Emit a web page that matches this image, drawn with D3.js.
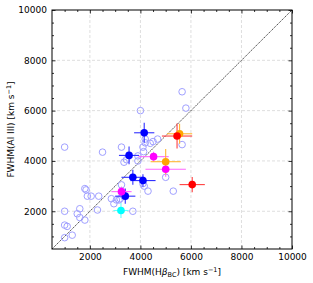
<!DOCTYPE html>
<html>
<head>
<meta charset="utf-8">
<script src="https://cdn.jsdelivr.net/npm/d3@7"></script>
<style>
  body { margin: 0; background: #fff; }
  text { font-family: "DejaVu Sans", sans-serif; }
</style>
</head>
<body>
<div id="vis"></div>
<script>
const FRAME_WIDTH = 313;
const FRAME_HEIGHT = 283;
const MARGINS = {left: 52, right: 21, top: 10, bottom: 34};
const VIS_WIDTH = FRAME_WIDTH - MARGINS.left - MARGINS.right;
const VIS_HEIGHT = FRAME_HEIGHT - MARGINS.top - MARGINS.bottom;

// comparison sample (open circles)
const OPEN_X = [1000, 2500, 3250, 4000, 5650, 5800, 5650, 5000, 5300, 4300, 3700,
  1000, 1600, 1500, 1600, 1800, 1000, 1100, 1300, 1000, 1800, 1850, 1900, 2050,
  2350, 2300, 2850, 2950, 3150, 3250, 3050, 3200, 3350, 3450, 3900, 4100, 4190,
  4190, 4390, 4500, 4680, 4125, 4100, 4150, 3900];
const OPEN_Y = [4550, 4350, 4550, 6000, 6750, 6100, 4650, 3350, 2800, 2800, 2000,
  2000, 2100, 1900, 1750, 1650, 1450, 1400, 1050, 950, 2900, 2850, 2600, 2600,
  2600, 2050, 2500, 2300, 2450, 3050, 2450, 2500, 3950, 4050, 4200, 4550, 4870,
  4720, 4700, 4770, 4870, 4370, 3100, 3000, 4000];

// main sample with error bars
const MAIN_X = [4150, 3550, 3700, 4100, 3400, 4520, 5000, 3250, 5550, 5000, 5450, 6050, 3230];
const MAIN_Y = [5120, 4220, 3350, 3220, 2600, 4170, 3670, 2780, 5080, 3970, 4990, 3060, 2030];
const MAIN_XERR = [400, 400, 450, 500, 400, 600, 800, 400, 500, 600, 600, 500, 300];
const MAIN_YERR = [400, 350, 300, 250, 300, 200, 300, 200, 400, 500, 500, 300, 300];
const MAIN_GROUP = ["blue", "blue", "blue", "blue", "blue", "magenta", "magenta", "magenta",
  "orange", "orange", "red", "red", "cyan"];

const COLORS = {blue: "#0000ff", magenta: "#ff00ff", orange: "#ffa500", red: "#ff0000", cyan: "#00ffff"};
const ERR_COLORS = {blue: "#3030ff", magenta: "#ff66ff", orange: "#ffb833", red: "#ff4040", cyan: "#66ffff"};

const MAJOR_TICKS = [2000, 4000, 6000, 8000, 10000];
const MINOR_TICKS = d3.range(1000, 10000, 500).filter(d => d % 2000 !== 0);

const X_SCALE = d3.scaleLinear().domain([500, 10000]).range([0, VIS_WIDTH]);
const Y_SCALE = d3.scaleLinear().domain([500, 10000]).range([VIS_HEIGHT, 0]);

const svg = d3.select("#vis")
  .append("svg")
    .attr("width", FRAME_WIDTH)
    .attr("height", FRAME_HEIGHT);

const g = svg.append("g")
  .attr("transform", "translate(" + MARGINS.left + "," + MARGINS.top + ")");

// grid
g.append("g").selectAll("line")
  .data(MAJOR_TICKS.slice(0, -1))
  .enter().append("line")
    .attr("x1", d => X_SCALE(d)).attr("x2", d => X_SCALE(d))
    .attr("y1", 0).attr("y2", VIS_HEIGHT)
    .attr("stroke", "#d0d0d0").attr("stroke-width", 0.7).attr("stroke-dasharray", "3,2");
g.append("g").selectAll("line")
  .data(MAJOR_TICKS.slice(0, -1))
  .enter().append("line")
    .attr("y1", d => Y_SCALE(d)).attr("y2", d => Y_SCALE(d))
    .attr("x1", 0).attr("x2", VIS_WIDTH)
    .attr("stroke", "#d0d0d0").attr("stroke-width", 0.7).attr("stroke-dasharray", "3,2");

// one-to-one line
g.append("line")
  .attr("x1", X_SCALE(500)).attr("y1", Y_SCALE(500))
  .attr("x2", X_SCALE(10000)).attr("y2", Y_SCALE(10000))
  .attr("stroke", "#000").attr("stroke-width", 0.7).attr("stroke-dasharray", "1.5,0.8");

// open circles
g.append("g").selectAll("circle")
  .data(OPEN_X)
  .enter().append("circle")
    .attr("cx", d => X_SCALE(d))
    .attr("cy", (d, i) => Y_SCALE(OPEN_Y[i]))
    .attr("r", 3.3)
    .attr("fill", "none")
    .attr("stroke", "#a0a0ff")
    .attr("stroke-width", 1);

// error bars
const errs = g.append("g");
MAIN_X.forEach((x, i) => {
  const c = ERR_COLORS[MAIN_GROUP[i]];
  errs.append("line")
    .attr("x1", X_SCALE(x - MAIN_XERR[i])).attr("x2", X_SCALE(x + MAIN_XERR[i]))
    .attr("y1", Y_SCALE(MAIN_Y[i])).attr("y2", Y_SCALE(MAIN_Y[i]))
    .attr("stroke", c).attr("stroke-width", 1.1);
  errs.append("line")
    .attr("x1", X_SCALE(x)).attr("x2", X_SCALE(x))
    .attr("y1", Y_SCALE(MAIN_Y[i] - MAIN_YERR[i])).attr("y2", Y_SCALE(MAIN_Y[i] + MAIN_YERR[i]))
    .attr("stroke", c).attr("stroke-width", 1.1);
});

// filled points
g.append("g").selectAll("circle")
  .data(MAIN_X)
  .enter().append("circle")
    .attr("cx", d => X_SCALE(d))
    .attr("cy", (d, i) => Y_SCALE(MAIN_Y[i]))
    .attr("r", 3.8)
    .attr("fill", (d, i) => COLORS[MAIN_GROUP[i]]);

// axes, ticks pointing inward
function styleAxis(sel) {
  sel.select(".domain").remove();
  sel.selectAll("line").attr("stroke", "#000").attr("stroke-width", 0.8);
  sel.selectAll("text").attr("font-size", "9px").attr("fill", "#000")
    .attr("font-family", "DejaVu Sans, sans-serif");
}

g.append("g").attr("transform", "translate(0," + VIS_HEIGHT + ")")
  .call(d3.axisBottom(X_SCALE).tickValues(MAJOR_TICKS).tickSize(-3.5).tickPadding(5).tickFormat(d3.format("d")))
  .call(styleAxis);
g.append("g").attr("transform", "translate(0," + VIS_HEIGHT + ")")
  .call(d3.axisBottom(X_SCALE).tickValues(MINOR_TICKS).tickSize(-2).tickFormat(""))
  .call(styleAxis);
g.append("g")
  .call(d3.axisLeft(Y_SCALE).tickValues(MAJOR_TICKS).tickSize(-3.5).tickPadding(5).tickFormat(d3.format("d")))
  .call(styleAxis);
g.append("g")
  .call(d3.axisLeft(Y_SCALE).tickValues(MINOR_TICKS).tickSize(-2).tickFormat(""))
  .call(styleAxis);
g.append("g")
  .call(d3.axisTop(X_SCALE).tickValues(MAJOR_TICKS).tickSize(-3.5).tickFormat(""))
  .call(styleAxis);
g.append("g")
  .call(d3.axisTop(X_SCALE).tickValues(MINOR_TICKS).tickSize(-2).tickFormat(""))
  .call(styleAxis);
g.append("g").attr("transform", "translate(" + VIS_WIDTH + ",0)")
  .call(d3.axisRight(Y_SCALE).tickValues(MAJOR_TICKS).tickSize(-3.5).tickFormat(""))
  .call(styleAxis);
g.append("g").attr("transform", "translate(" + VIS_WIDTH + ",0)")
  .call(d3.axisRight(Y_SCALE).tickValues(MINOR_TICKS).tickSize(-2).tickFormat(""))
  .call(styleAxis);

// frame
g.append("rect")
  .attr("width", VIS_WIDTH).attr("height", VIS_HEIGHT)
  .attr("fill", "none").attr("stroke", "#000").attr("stroke-width", 1);

// axis labels
const xl = svg.append("text")
  .attr("x", MARGINS.left + VIS_WIDTH / 2)
  .attr("y", 275)
  .attr("text-anchor", "middle")
  .attr("font-size", "9px");
xl.append("tspan").text("FWHM(H");
xl.append("tspan").attr("font-style", "italic").text("β");
xl.append("tspan").attr("font-size", "6.5px").attr("dy", 2).text("BC");
xl.append("tspan").attr("dy", -2).text(") [km s");
xl.append("tspan").attr("font-size", "6.5px").attr("dy", -3.5).text("−1");
xl.append("tspan").attr("dy", 3.5).text("]");

const yl = svg.append("text")
  .attr("transform", "translate(14," + (MARGINS.top + VIS_HEIGHT / 2) + ") rotate(-90)")
  .attr("text-anchor", "middle")
  .attr("font-size", "9px");
yl.append("tspan").text("FWHM(Al III) [km s");
yl.append("tspan").attr("font-size", "6.5px").attr("dy", -3.5).text("−1");
yl.append("tspan").attr("dy", 3.5).text("]");
</script>
</body>
</html>
